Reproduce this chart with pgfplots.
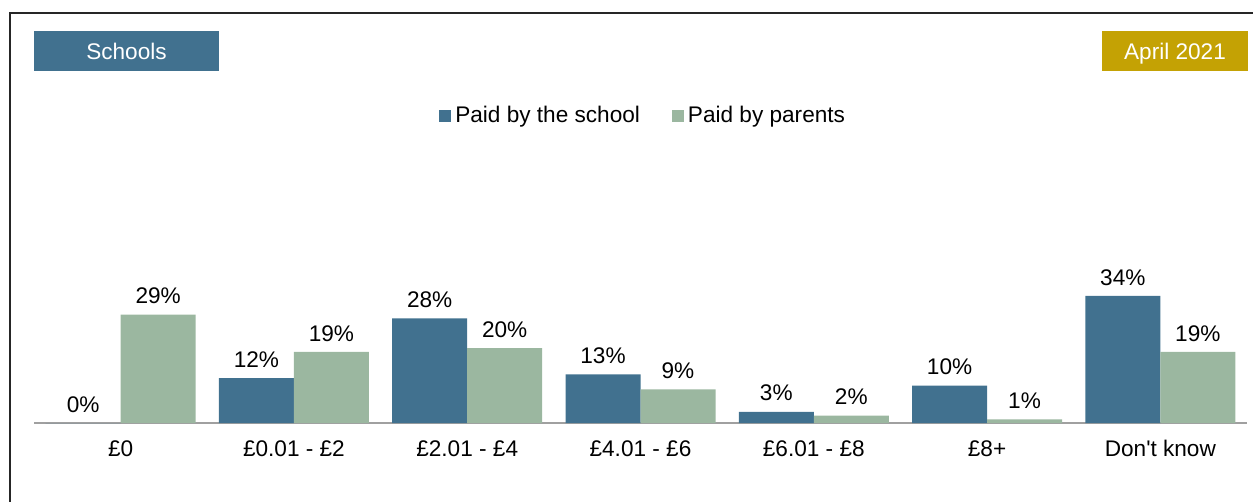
\documentclass[border=0pt]{standalone}
\usepackage{pgfplots}
\pgfplotsset{compat=1.18}
\usepackage{fontspec}
\setmainfont{Liberation Sans}

\definecolor{schoolblue}{HTML}{41718F}
\definecolor{parentgreen}{HTML}{9BB7A0}
\definecolor{tagold}{HTML}{C4A204}
\definecolor{baseline}{HTML}{A0A0A0}
\newcommand\lbl{\fontsize{11.3pt}{13.5pt}\selectfont}

\begin{document}
\begin{tikzpicture}
% page is 1253 x 502 px at 0.5pt per px, origin top left
\path[use as bounding box] (0,0) rectangle (626.5pt,-251pt);
\draw[line width=1pt, black!85] (5pt,-251pt) -- (5pt,-6.3pt) -- (626.5pt,-6.3pt);

\fill[schoolblue] (17pt,-15.5pt) rectangle (109.5pt,-35.5pt);
\node[text=white, font=\lbl, anchor=base] at (63.25pt,-30pt) {Schools};
\fill[tagold] (551pt,-15.5pt) rectangle (624pt,-35.5pt);
\node[text=white, font=\lbl, anchor=base] at (587.5pt,-30pt) {April 2021};

\begin{axis}[
    at={(17pt,-211.5pt)}, anchor=south west,
    scale only axis,
    width=606.5pt, height=161.5pt,
    xmin=-0.5, xmax=6.5,
    ymin=0, ymax=86.4,
    axis x line=bottom, axis y line=none,
    axis line style={-, draw=baseline, line width=0.6pt},
    xtick={0,...,6},
    xticklabels={£0, £0.01 - £2, £2.01 - £4, £4.01 - £6, £6.01 - £8, £8+, Don\textquotesingle t know},
    major tick length=0pt,
    xticklabel style={font=\lbl, anchor=base, yshift=-16.5pt},
    ytick=\empty,
    ybar=0pt, bar width=37.5pt,
    /pgf/number format/assume math mode=true,
    nodes near coords={\pgfmathprintnumber{\pgfplotspointmeta}\%},
    every node near coord/.append style={font=\lbl, text=black, yshift=1.8pt},
    clip=false,
    legend columns=2,
    legend style={draw=none, fill=none, font=\lbl, at={(0.503,0.951)}, anchor=center,
        /tikz/every even column/.append style={column sep=14pt}},
    legend image code/.code={\fill[#1] (0pt,-3pt) rectangle (6pt,3pt);},
]
\addplot[fill=schoolblue, draw=none] coordinates {
    (0,0) (1,12) (2,28) (3,13) (4,3) (5,10) (6,34)
};
\addlegendentry{Paid by the school}
\addplot[fill=parentgreen, draw=none] coordinates {
    (0,29) (1,19) (2,20) (3,9) (4,2) (5,1) (6,19)
};
\addlegendentry{Paid by parents}
\end{axis}
\end{tikzpicture}
\end{document}
